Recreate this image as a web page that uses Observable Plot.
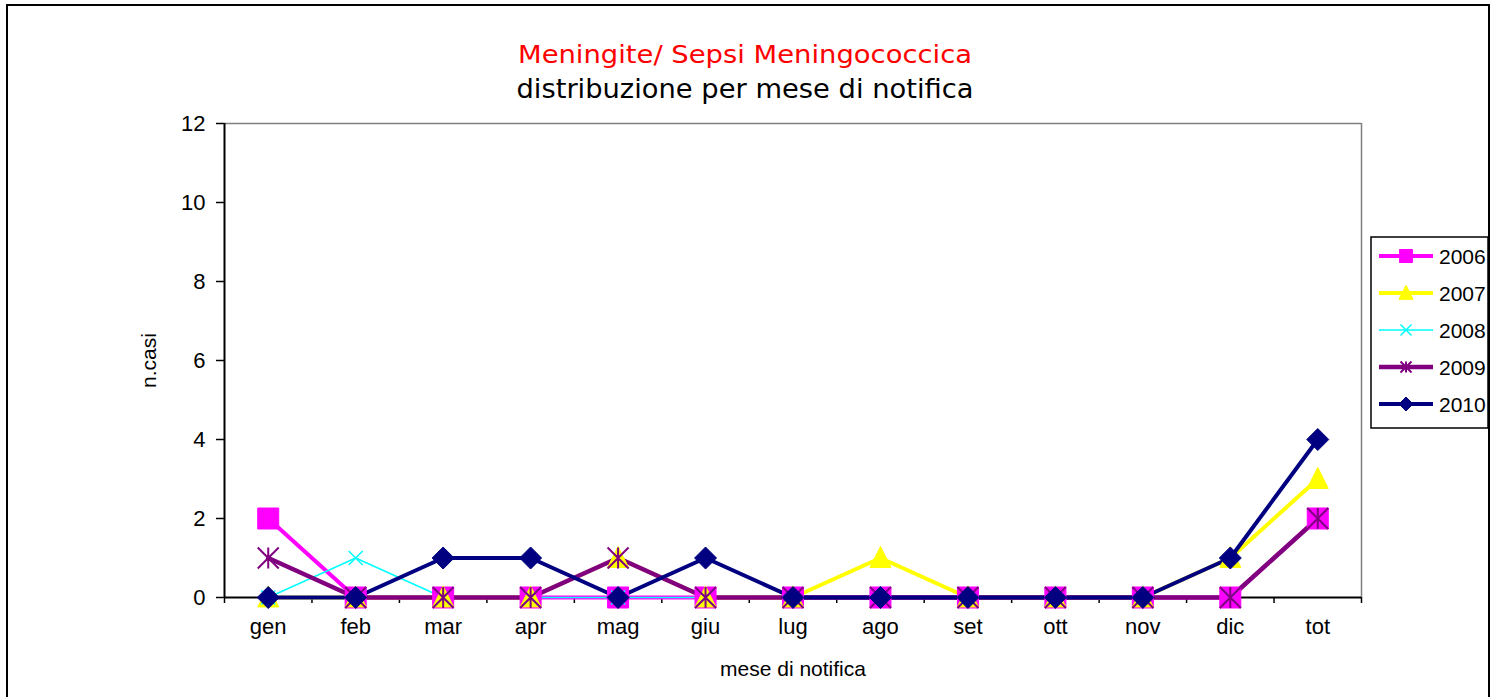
<!DOCTYPE html>
<html><head><meta charset="utf-8">
<script src="https://cdn.jsdelivr.net/npm/d3@7"></script>
<script src="https://cdn.jsdelivr.net/npm/@observablehq/plot@0.6"></script>
<style>
body{margin:0;background:#fff;}
#wrap{position:relative;width:1500px;height:697px;overflow:hidden;background:#fff;}
#border{position:absolute;left:6px;top:4px;width:1480px;height:720px;border:2px solid #000;}
#chart{position:absolute;left:0;top:0;}
#overlay{position:absolute;left:0;top:0;pointer-events:none;}
</style>
</head><body>
<div id="wrap"><div id="border"></div><div id="chart"></div><svg id="overlay" width="1500" height="697"></svg></div>
<script>
// ---- data ----
const months = ["gen","feb","mar","apr","mag","giu","lug","ago","set","ott","nov","dic","tot"];
const years = ["2006","2007","2008","2009","2010"];
const v2006 = [2,0,0,0,0,0,0,0,0,0,0,0,2];
const v2007 = [0,0,0,0,1,0,0,1,0,0,0,1,3];
const v2008 = [0,1,0,0,0,0,0,0,0,0,0,0,null];
const v2009 = [1,0,0,0,1,0,0,0,0,0,0,0,2];
const v2010 = [0,0,1,1,0,1,0,0,0,0,0,1,4];
const yTicks = [0,2,4,6,8,10,12];
const titleText = "Meningite/ Sepsi Meningococcica";
const subtitleText = "distribuzione per mese di notifica";
const xLabel = "mese di notifica";
const yLabel = "n.casi";

// ---- custom marker shapes (Plot passes size = r*r*PI) ----
const R = s => Math.sqrt(s / Math.PI);
const symSquare = {draw(c, s){const r=R(s); c.rect(-r,-r,2*r,2*r);}};
const symTriangle = {draw(c, s){const r=R(s); c.moveTo(0,-r*1.1); c.lineTo(r,r*0.9); c.lineTo(-r,r*0.9); c.closePath();}};
const symTimes = {draw(c, s){const r=R(s); c.moveTo(-r,-r); c.lineTo(r,r); c.moveTo(r,-r); c.lineTo(-r,r);}};
const symStar = {draw(c, s){const r=R(s); c.moveTo(-r,-r); c.lineTo(r,r); c.moveTo(r,-r); c.lineTo(-r,r); c.moveTo(0,-r); c.lineTo(0,r);}};
const symDiamond = {draw(c, s){const r=R(s); c.moveTo(0,-r); c.lineTo(r,0); c.lineTo(0,r); c.lineTo(-r,0); c.closePath();}};

const values = {"2006": v2006, "2007": v2007, "2008": v2008, "2009": v2009, "2010": v2010};
const styles = {
  "2006": {color:"#FF00FF", w:4,   sym:symSquare,   r:10.5, filled:true,  mw:1,   lr:6.5},
  "2007": {color:"#FFFF00", w:4,   sym:symTriangle, r:10.5, filled:true,  mw:1,   lr:7},
  "2008": {color:"#00FFFF", w:1.5, sym:symTimes,    r:7,    filled:false, mw:1.5, lr:5.5},
  "2009": {color:"#800080", w:4.5, sym:symStar,     r:10.5, filled:false, mw:2,   lr:5.5},
  "2010": {color:"#000080", w:4,   sym:symDiamond,  r:11,   filled:true,  mw:1,   lr:7}
};

const rows = years.map(y => values[y].map((v, i) => ({year: y, i, v: v == null ? NaN : v})));
const bounds = d3.range(-0.5, 13, 1);

const marks = [
  Plot.ruleY([12], {stroke: "#808080", strokeWidth: 1.5}),
  Plot.ruleX([12.5], {stroke: "#808080", strokeWidth: 1.5}),
  Plot.axisY(yTicks, {tickSize: 8, tickPadding: 11, strokeWidth: 1.5, label: null, fontSize: 22}),
  Plot.axisX(bounds, {tickSize: 6, tickFormat: () => "", strokeWidth: 1.5, label: null}),
  Plot.axisX(d3.range(13), {tickSize: 0, tickPadding: 21, tickFormat: i => months[i], label: null, fontSize: 22}),
  Plot.ruleX([-0.5], {stroke: "#000", strokeWidth: 2}),
  Plot.ruleY([0], {stroke: "#000", strokeWidth: 2}),
  Plot.text([yLabel], {frameAnchor: "left", dx: -75, rotate: -90, fontSize: 21, textAnchor: "middle", lineAnchor: "middle"}),
  Plot.text([xLabel], {frameAnchor: "bottom", dy: 72, fontSize: 21, textAnchor: "middle", lineAnchor: "middle"})
];
years.forEach((y, k) => {
  const st = styles[y];
  marks.push(Plot.line(rows[k], {x: "i", y: "v", stroke: st.color, strokeWidth: st.w, strokeLinejoin: "round"}));
});
years.forEach((y, k) => {
  const st = styles[y];
  marks.push(Plot.dot(rows[k].filter(d => !isNaN(d.v)), {x: "i", y: "v", symbol: st.sym, r: st.r,
    fill: st.filled ? st.color : "none", stroke: st.color, strokeWidth: st.mw}));
});

const plot = Plot.plot({
  width: 1500, height: 697,
  marginLeft: 224, marginRight: 139, marginTop: 123, marginBottom: 100,
  x: {type: "linear", domain: [-0.5, 12.5], label: null},
  y: {domain: [0, 12], label: null},
  style: {fontFamily: "'Liberation Sans', Arial, sans-serif", fontSize: "22px", color: "#000", background: "transparent"},
  marks
});
document.getElementById("chart").appendChild(plot);

// ---- titles and legend overlay ----
const ov = d3.select("#overlay");
ov.append("text").attr("x", 745).attr("y", 63).attr("text-anchor", "middle")
  .attr("font-family", "'DejaVu Sans', sans-serif").attr("font-size", 25).attr("fill", "#FF0000")
  .attr("textLength", 454).attr("lengthAdjust", "spacingAndGlyphs").text(titleText);
ov.append("text").attr("x", 745).attr("y", 98).attr("text-anchor", "middle")
  .attr("font-family", "'DejaVu Sans', sans-serif").attr("font-size", 26).attr("fill", "#000")
  .attr("textLength", 457).attr("lengthAdjust", "spacingAndGlyphs").text(subtitleText);

ov.append("rect").attr("x", 1371).attr("y", 237).attr("width", 117).attr("height", 191)
  .attr("fill", "#fff").attr("stroke", "#000").attr("stroke-width", 1.5);
years.forEach((y, k) => {
  const st = styles[y];
  const cy = 256 + k * 37;
  ov.append("line").attr("x1", 1379).attr("x2", 1433).attr("y1", cy).attr("y2", cy)
    .attr("stroke", st.color).attr("stroke-width", st.w);
  const p = d3.path(); st.sym.draw(p, st.lr * st.lr * Math.PI);
  ov.append("path").attr("d", p.toString()).attr("transform", `translate(1406,${cy})`)
    .attr("fill", st.filled ? st.color : "none").attr("stroke", st.color).attr("stroke-width", st.mw);
  ov.append("text").attr("x", 1439).attr("y", cy + 7.5).attr("font-family", "'Liberation Sans', Arial, sans-serif")
    .attr("font-size", 21).attr("fill", "#000").text(y);
});
</script>
</body></html>
